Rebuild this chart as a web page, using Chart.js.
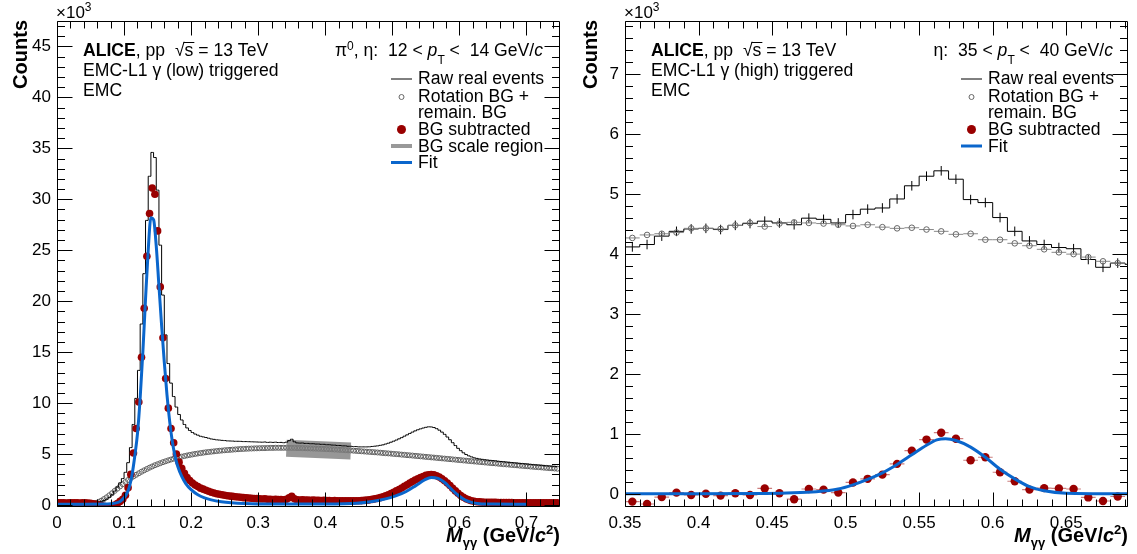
<!DOCTYPE html>
<html><head><meta charset="utf-8">
<script src="https://cdn.jsdelivr.net/npm/chart.js@4.4.0/dist/chart.umd.min.js"></script>
<style>
html,body{margin:0;padding:0;background:#fff;}
#wrap{position:relative;width:1137px;height:554px;overflow:hidden;}
#cL{position:absolute;left:0;top:0;}
#cR{position:absolute;left:570px;top:0;}
</style></head><body>
<div id="wrap"><canvas id="cL" width="570" height="554"></canvas><canvas id="cR" width="567" height="554"></canvas></div>
<script>
// ---------------- LEFT PANEL DATA (counts in units of 10^3) ----------------
const leftMass = [
0.002,0.006,0.010,0.014,0.018,0.022,0.026,0.030,0.034,0.038,
0.042,0.046,0.050,0.054,0.058,0.062,0.066,0.070,0.074,0.078,
0.082,0.086,0.090,0.094,0.098,0.102,0.106,0.110,0.114,0.118,
0.122,0.126,0.130,0.134,0.138,0.142,0.146,0.150,0.154,0.158,
0.162,0.166,0.170,0.174,0.178,0.182,0.186,0.190,0.194,0.198,
0.202,0.206,0.210,0.214,0.218,0.222,0.226,0.230,0.234,0.238,
0.242,0.246,0.250,0.254,0.258,0.262,0.266,0.270,0.274,0.278,
0.282,0.286,0.290,0.294,0.298,0.302,0.306,0.310,0.314,0.318,
0.322,0.326,0.330,0.334,0.338,0.342,0.346,0.350,0.354,0.358,
0.362,0.366,0.370,0.374,0.378,0.382,0.386,0.390,0.394,0.398,
0.402,0.406,0.410,0.414,0.418,0.422,0.426,0.430,0.434,0.438,
0.442,0.446,0.450,0.454,0.458,0.462,0.466,0.470,0.474,0.478,
0.482,0.486,0.490,0.494,0.498,0.502,0.506,0.510,0.514,0.518,
0.522,0.526,0.530,0.534,0.538,0.542,0.546,0.550,0.554,0.558,
0.562,0.566,0.570,0.574,0.578,0.582,0.586,0.590,0.594,0.598,
0.602,0.606,0.610,0.614,0.618,0.622,0.626,0.630,0.634,0.638,
0.642,0.646,0.650,0.654,0.658,0.662,0.666,0.670,0.674,0.678,
0.682,0.686,0.690,0.694,0.698,0.702,0.706,0.710,0.714,0.718,
0.722,0.726,0.730,0.734,0.738,0.742,0.746];
const leftRaw = [
0.2,0.22,0.2,0.18,0.2,0.22,0.2,0.2,0.18,0.21,
0.22,0.21,0.22,0.24,0.27,0.3,0.34,0.44,0.57,0.75,
1.0,1.36,1.75,2.17,2.59,3.2,4.15,5.63,7.9,10.46,
13.21,17.76,22.7,27.93,32.26,34.6,34.1,30.9,25.5,20.6,
16.69,13.88,11.96,10.64,9.61,8.88,8.34,7.9,7.56,7.31,
7.11,6.96,6.85,6.74,6.68,6.62,6.55,6.48,6.44,6.39,
6.37,6.34,6.32,6.29,6.28,6.27,6.25,6.25,6.24,6.22,
6.22,6.21,6.2,6.19,6.18,6.17,6.16,6.18,6.14,6.16,
6.14,6.16,6.13,6.14,6.11,6.16,6.31,6.45,6.2,6.09,
6.07,6.08,6.04,6.04,6.01,6.01,5.98,5.98,5.95,5.95,
5.91,5.91,5.88,5.87,5.84,5.83,5.8,5.8,5.76,5.76,
5.73,5.73,5.7,5.7,5.7,5.7,5.71,5.74,5.77,5.8,
5.85,5.9,5.98,6.06,6.16,6.26,6.37,6.49,6.61,6.75,
6.88,7.02,7.15,7.27,7.38,7.47,7.55,7.62,7.67,7.66,
7.6,7.49,7.34,7.15,6.93,6.67,6.4,6.11,5.83,5.56,
5.33,5.12,4.95,4.82,4.72,4.63,4.57,4.52,4.48,4.44,
4.41,4.38,4.35,4.33,4.29,4.27,4.24,4.21,4.19,4.16,
4.13,4.11,4.08,4.06,4.03,4.01,3.98,3.95,3.93,3.91,
3.89,3.86,3.84,3.82,3.8,3.78,3.76];
const leftRotBG = [
0,0,0,0,0,0,0,0,0,0.01,
0.02,0.03,0.05,0.12,0.2,0.3,0.42,0.58,0.75,0.95,
1.15,1.38,1.6,1.82,2.04,2.25,2.45,2.63,2.8,2.96,
3.11,3.26,3.4,3.53,3.66,3.78,3.9,4.0,4.1,4.2,
4.29,4.38,4.46,4.54,4.61,4.68,4.74,4.8,4.86,4.91,
4.96,5.01,5.05,5.09,5.13,5.17,5.2,5.23,5.26,5.29,
5.32,5.34,5.37,5.39,5.41,5.43,5.45,5.47,5.49,5.5,
5.52,5.53,5.54,5.55,5.56,5.57,5.58,5.58,5.59,5.6,
5.6,5.61,5.61,5.61,5.61,5.61,5.61,5.6,5.6,5.59,
5.59,5.58,5.57,5.56,5.55,5.54,5.53,5.52,5.51,5.5,
5.48,5.47,5.46,5.44,5.43,5.41,5.4,5.38,5.36,5.35,
5.33,5.31,5.29,5.27,5.25,5.23,5.21,5.19,5.17,5.15,
5.13,5.1,5.08,5.06,5.04,5.01,4.99,4.97,4.94,4.92,
4.89,4.87,4.85,4.82,4.8,4.77,4.75,4.72,4.7,4.67,
4.65,4.62,4.6,4.57,4.55,4.52,4.5,4.47,4.45,4.42,
4.4,4.37,4.35,4.32,4.3,4.27,4.25,4.22,4.2,4.17,
4.15,4.12,4.1,4.08,4.05,4.03,4.0,3.98,3.96,3.93,
3.91,3.89,3.86,3.84,3.82,3.8,3.77,3.75,3.73,3.71,
3.69,3.66,3.64,3.62,3.6,3.58,3.56];
const leftSub = [
0.2,0.22,0.2,0.18,0.2,0.22,0.2,0.2,0.18,0.2,
0.2,0.18,0.17,0.12,0.07,0.0,-0.08,-0.14,-0.18,-0.2,
-0.15,-0.02,0.15,0.35,0.55,0.95,1.7,3.0,5.1,7.5,
10.1,14.5,19.3,24.4,28.6,31.1,30.5,26.9,21.4,16.4,
12.4,9.5,7.5,6.1,5.0,4.2,3.6,3.1,2.7,2.4,
2.15,1.95,1.8,1.65,1.55,1.45,1.35,1.25,1.18,1.1,
1.05,1.0,0.95,0.9,0.87,0.84,0.8,0.78,0.75,0.72,
0.7,0.68,0.66,0.64,0.62,0.6,0.58,0.6,0.55,0.56,
0.54,0.55,0.52,0.53,0.5,0.55,0.7,0.85,0.6,0.5,
0.48,0.5,0.47,0.48,0.46,0.47,0.45,0.46,0.44,0.45,
0.43,0.44,0.42,0.43,0.41,0.42,0.4,0.42,0.4,0.41,
0.4,0.42,0.41,0.43,0.45,0.47,0.5,0.55,0.6,0.65,
0.72,0.8,0.9,1.0,1.12,1.25,1.38,1.52,1.67,1.83,
1.99,2.15,2.3,2.45,2.58,2.7,2.8,2.9,2.97,2.99,
2.95,2.87,2.74,2.58,2.38,2.15,1.9,1.64,1.38,1.14,
0.93,0.75,0.6,0.5,0.42,0.36,0.32,0.3,0.28,0.27,
0.26,0.26,0.25,0.25,0.24,0.24,0.24,0.23,0.23,0.23,
0.22,0.22,0.22,0.22,0.21,0.21,0.21,0.2,0.2,0.2,
0.2,0.2,0.2,0.2,0.2,0.2,0.2];
const leftFitMass = [0.000,0.040,0.070,0.080,0.088,0.094,0.100,0.104,0.108,0.112,0.116,0.120,0.124,0.128,0.132,0.136,0.140,0.144,0.148,0.152,0.156,0.160,0.164,0.168,0.172,0.176,0.180,0.186,0.192,0.200,0.210,0.220,0.230,0.245,0.260,0.280,0.320,0.380,0.440,0.470,0.490,0.505,0.520,0.535,0.548,0.558,0.568,0.578,0.588,0.598,0.608,0.618,0.630,0.650,0.700];
const leftFitCounts = [0.08,0.08,0.09,0.12,0.2,0.35,0.7,1.1,1.8,3.0,4.8,7.0,10.5,15.0,20.2,25.0,28.2,28.0,25.4,21.5,17.6,14.0,10.8,8.2,6.2,4.8,3.8,2.8,2.1,1.5,1.0,0.7,0.5,0.32,0.22,0.15,0.1,0.1,0.15,0.35,0.6,0.9,1.3,1.9,2.45,2.7,2.6,2.2,1.55,0.95,0.5,0.25,0.13,0.09,0.08];
const leftScaleMass = [0.342, 0.438];
const leftScaleCounts = [5.56, 5.30];
const leftXTicks = [0,0.1,0.2,0.3,0.4,0.5,0.6,0.7];
const leftXTickLabels = ['0','0.1','0.2','0.3','0.4','0.5','0.6','0.7'];
const leftYTicks = [0,5,10,15,20,25,30,35,40,45];
const leftYTickLabels = ['0','5','10','15','20','25','30','35','40','45'];

// ---------------- RIGHT PANEL DATA (counts in units of 10^3) ----------------
const rightRawMass = [0.345,0.355,0.365,0.375,0.385,0.395,0.405,0.415,0.425,0.435,0.445,0.455,0.465,0.475,0.485,0.495,0.505,0.515,0.525,0.535,0.545,0.555,0.565,0.575,0.585,0.595,0.605,0.615,0.625,0.635,0.645,0.655,0.665,0.675,0.685,0.695];
const rightRaw = [4.2,4.12,4.16,4.30,4.38,4.42,4.43,4.41,4.48,4.51,4.55,4.52,4.49,4.60,4.58,4.52,4.66,4.75,4.77,4.92,5.14,5.30,5.39,5.25,4.91,4.86,4.61,4.38,4.22,4.16,4.11,4.09,3.91,3.78,3.85,3.83];
const rightMass = [0.355,0.365,0.375,0.385,0.395,0.405,0.415,0.425,0.435,0.445,0.455,0.465,0.475,0.485,0.495,0.505,0.515,0.525,0.535,0.545,0.555,0.565,0.575,0.585,0.595,0.605,0.615,0.625,0.635,0.645,0.655,0.665,0.675,0.685];
const rightRotBG = [4.27,4.32,4.34,4.36,4.43,4.43,4.42,4.48,4.52,4.46,4.51,4.53,4.52,4.51,4.49,4.47,4.49,4.45,4.43,4.44,4.41,4.38,4.33,4.34,4.24,4.24,4.18,4.14,4.08,4.03,4.0,3.95,3.88,3.85];
const rightSub = [-0.13,-0.17,-0.055,0.02,-0.02,0.0,-0.03,0.01,-0.02,0.09,0.01,-0.09,0.08,0.07,0.02,0.19,0.25,0.32,0.50,0.72,0.905,1.02,0.92,0.56,0.61,0.36,0.21,0.07,0.095,0.09,0.08,-0.06,-0.12,-0.045];
const rightFitMass = [0.350,0.400,0.440,0.460,0.480,0.495,0.505,0.515,0.525,0.535,0.545,0.555,0.562,0.568,0.575,0.585,0.595,0.605,0.615,0.625,0.635,0.650,0.692];
const rightFitCounts = [0.0,0.0,0.005,0.015,0.035,0.08,0.15,0.24,0.35,0.49,0.65,0.81,0.9,0.92,0.89,0.78,0.61,0.41,0.25,0.12,0.05,0.01,0.0];
const rightXTicks = [0.35,0.4,0.45,0.5,0.55,0.6,0.65];
const rightXTickLabels = ['0.35','0.4','0.45','0.5','0.55','0.6','0.65'];
const rightYTicks = [0,1,2,3,4,5,6,7];
const rightYTickLabels = ['0','1','2','3','4','5','6','7'];

// ---------------- helpers ----------------
const FONT = '"Liberation Sans", Arial, Helvetica, sans-serif';
const fnt = (s, st) => (st ? st + ' ' : '') + s + 'px ' + FONT;
const pts = (xs, ys) => xs.map((x, i) => ({x: x, y: ys[i]}));
const RED = '#990000', BLUE = '#0a66cc', TS = 17.6;

function rich(ctx, x, y, parts, align) {
  let w = 0;
  for (const p of parts) { ctx.font = p[1]; w += ctx.measureText(p[0]).width; }
  let cx = align === 'right' ? x - w : x;
  for (const p of parts) { ctx.font = p[1]; ctx.fillText(p[0], cx, y + (p[2] || 0)); cx += ctx.measureText(p[0]).width; }
  return cx;
}

function frameTicks(o) {
  return {
    id: 'frameTicks',
    afterDatasetsDraw(chart) {
      const ctx = chart.ctx, a = chart.chartArea, sx = chart.scales.x, sy = chart.scales.y;
      ctx.save(); ctx.strokeStyle = '#000'; ctx.lineWidth = 1; ctx.beginPath();
      const L = Math.round(a.left) + 0.5, R = Math.round(a.right) - 0.5, T = Math.round(a.top) + 0.5, B = Math.round(a.bottom) - 0.5;
      for (let k = Math.ceil(sx.min / o.xMinor - 1e-6); k <= Math.floor(sx.max / o.xMinor + 1e-6); k++) {
        const v = k * o.xMinor, q = v / o.xMajor, maj = Math.abs(q - Math.round(q)) < 1e-6;
        const len = maj ? o.xLen : o.xLen * 0.5;
        const p = Math.round(sx.getPixelForValue(v)) + 0.5;
        ctx.moveTo(p, B); ctx.lineTo(p, B - len); ctx.moveTo(p, T); ctx.lineTo(p, T + len);
      }
      for (let k = Math.ceil(sy.min / o.yMinor - 1e-6); k <= Math.floor(sy.max / o.yMinor + 1e-6); k++) {
        const v = k * o.yMinor, q = v / o.yMajor, maj = Math.abs(q - Math.round(q)) < 1e-6;
        const len = maj ? o.yLen : o.yLen * 0.5;
        const p = Math.round(sy.getPixelForValue(v)) + 0.5;
        ctx.moveTo(L, p); ctx.lineTo(L + len, p); ctx.moveTo(R, p); ctx.lineTo(R - len, p);
      }
      ctx.rect(L, T, R - L, B - T);
      ctx.stroke(); ctx.restore();
    }
  };
}

function errBars(list) {
  return {
    id: 'errBars',
    beforeDatasetDraw(chart, args) {
      const spec = list.find(s => s.ds === args.index); if (!spec) return;
      const ctx = chart.ctx, a = chart.chartArea, sx = chart.scales.x, sy = chart.scales.y;
      const data = chart.data.datasets[args.index].data;
      ctx.save(); ctx.beginPath(); ctx.rect(a.left, a.top, a.right - a.left, a.bottom - a.top); ctx.clip();
      ctx.strokeStyle = spec.color; ctx.lineWidth = spec.width; ctx.beginPath();
      data.forEach(d => {
        const px = sx.getPixelForValue(d.x), py = sy.getPixelForValue(d.y);
        if (spec.xErr) { ctx.moveTo(sx.getPixelForValue(d.x - spec.xErr), py); ctx.lineTo(sx.getPixelForValue(d.x + spec.xErr), py); }
        if (spec.yErr) { ctx.moveTo(px, sy.getPixelForValue(d.y - spec.yErr)); ctx.lineTo(px, sy.getPixelForValue(d.y + spec.yErr)); }
      });
      ctx.stroke(); ctx.restore();
    }
  };
}

function commonTexts(ctx, area, trig) {
  ctx.fillStyle = '#000'; ctx.strokeStyle = '#000'; ctx.textAlign = 'left'; ctx.textBaseline = 'alphabetic';
  rich(ctx, area.left - 1, 18, [['×10', fnt(17)], ['3', fnt(12), -7]]);
  ctx.save(); ctx.translate(27, 20); ctx.rotate(-Math.PI / 2); ctx.textAlign = 'right';
  ctx.font = fnt(20, 'bold'); ctx.fillText('Counts', 0, 0); ctx.restore();
  rich(ctx, area.right, 542, [['M', fnt(20, 'italic bold')], ['γγ', fnt(13, 'bold'), 5], [' (GeV/', fnt(20, 'bold')], ['c', fnt(20, 'italic bold')], ['2', fnt(13, 'bold'), -8], [')', fnt(20, 'bold')]], 'right');
  const x0 = area.left + 26, y0 = 56;
  let cx = rich(ctx, x0, y0, [['ALICE', fnt(TS, 'bold')], [', pp  ', fnt(TS)]]);
  ctx.font = fnt(TS);
  const wr = ctx.measureText('√').width, ws = ctx.measureText('s').width;
  ctx.fillText('√', cx, y0); ctx.fillText('s', cx + wr, y0);
  ctx.lineWidth = 1; ctx.beginPath(); ctx.moveTo(cx + wr - 1, y0 - 13.5); ctx.lineTo(cx + wr + ws + 1, y0 - 13.5); ctx.stroke();
  ctx.fillText(' = 13 TeV', cx + wr + ws, y0);
  ctx.fillText('EMC-L1 γ (' + trig + ') triggered', x0, 76);
  ctx.fillText('EMC', x0, 96);
}

function legendEntry(ctx, kind, y, text, ys) {
  const lx0 = 391, lx1 = 412, tx = 418, cxm = 401.5;
  ctx.save();
  if (kind === 'line') { ctx.strokeStyle = '#000'; ctx.lineWidth = 1; ctx.beginPath(); ctx.moveTo(lx0, ys); ctx.lineTo(lx1, ys); ctx.stroke(); }
  if (kind === 'open') { ctx.strokeStyle = '#666'; ctx.lineWidth = 1; ctx.beginPath(); ctx.arc(cxm, ys, 2.5, 0, Math.PI * 2); ctx.stroke(); }
  if (kind === 'red') { ctx.fillStyle = RED; ctx.beginPath(); ctx.arc(cxm, ys, 4.5, 0, Math.PI * 2); ctx.fill(); }
  if (kind === 'grey') { ctx.strokeStyle = '#999'; ctx.lineWidth = 4; ctx.beginPath(); ctx.moveTo(lx0, ys); ctx.lineTo(lx1, ys); ctx.stroke(); }
  if (kind === 'blue') { ctx.strokeStyle = BLUE; ctx.lineWidth = 3; ctx.beginPath(); ctx.moveTo(lx0, ys); ctx.lineTo(lx1, ys); ctx.stroke(); }
  ctx.restore();
  ctx.fillStyle = '#000'; ctx.font = fnt(TS); ctx.textAlign = 'left'; ctx.fillText(text, tx, y);
}

function axisCfg(min, max, ticks, labels, isX, size) {
  return {
    type: 'linear', min: min, max: max, position: isX ? 'bottom' : 'left',
    grid: { display: false, drawTicks: false }, border: { display: false },
    ticks: { color: '#000', font: { family: FONT, size: 17 }, padding: 6, autoSkip: false, maxRotation: 0, minRotation: 0,
      callback: (v, i) => labels[i] },
    afterBuildTicks: s => { s.ticks = ticks.map(v => ({ value: v })); },
    afterFit: s => { if (isX) s.height = size; else s.width = size; }
  };
}

const baseOpts = (padRight) => ({
  responsive: false, animation: false, devicePixelRatio: 1,
  layout: { padding: { left: 0, right: padRight, top: 21, bottom: 0 } },
  plugins: { legend: { display: false }, tooltip: { enabled: false } },
  elements: { line: { tension: 0 } }
});

// ---------------- LEFT CHART ----------------
const optL = baseOpts(10);
optL.scales = { x: axisCfg(0, 0.75, leftXTicks, leftXTickLabels, true, 47), y: axisCfg(-0.2, 47.5, leftYTicks, leftYTickLabels, false, 57) };
new Chart(document.getElementById('cL'), {
  type: 'line',
  data: { datasets: [
    { label: 'Raw real events', data: pts(leftMass, leftRaw), stepped: 'middle', borderColor: '#000', borderWidth: 1, pointRadius: 0, fill: false, order: 2 },
    { label: 'Rotation BG + remain. BG', data: pts(leftMass, leftRotBG), showLine: false, pointStyle: 'circle', pointRadius: 2.5, pointBorderWidth: 1, pointBorderColor: '#606060', pointBackgroundColor: 'rgba(0,0,0,0)', order: 4 },
    { label: 'BG scale region', data: pts(leftScaleMass, leftScaleCounts), borderColor: 'rgba(125,125,125,0.8)', borderWidth: 17, borderCapStyle: 'butt', pointRadius: 0, fill: false, order: 3 },
    { label: 'BG subtracted', data: pts(leftMass, leftSub), showLine: false, pointStyle: 'circle', pointRadius: 3.8, pointBorderWidth: 0, pointBackgroundColor: RED, order: 1 },
    { label: 'Fit', data: pts(leftFitMass, leftFitCounts), borderColor: BLUE, borderWidth: 3, pointRadius: 0, cubicInterpolationMode: 'monotone', fill: false, order: 0 }
  ] },
  options: optL,
  plugins: [frameTicks({ xMinor: 0.02, xMajor: 0.1, xLen: 14, yMinor: 1, yMajor: 5, yLen: 15 }), {
    id: 'textsL',
    afterDraw(chart) {
      const ctx = chart.ctx; ctx.save();
      commonTexts(ctx, chart.chartArea, 'low');
      rich(ctx, 543, 56, [['π', fnt(TS)], ['0', fnt(12), -6], [', η:  12 < ', fnt(TS)], ['p', fnt(TS, 'italic')], ['T', fnt(12), 8], [' <  14 GeV/', fnt(TS)], ['c', fnt(TS, 'italic')]], 'right');
      legendEntry(ctx, 'line', 84, 'Raw real events', 79);
      legendEntry(ctx, 'open', 101.5, 'Rotation BG +', 97);
      legendEntry(ctx, 'none', 117.5, 'remain. BG', 0);
      legendEntry(ctx, 'red', 134.5, 'BG subtracted', 129.5);
      legendEntry(ctx, 'grey', 152, 'BG scale region', 146);
      legendEntry(ctx, 'blue', 168, 'Fit', 162.5);
      ctx.restore();
    }
  }]
});

// ---------------- RIGHT CHART ----------------
const optR = baseOpts(9);
optR.scales = { x: axisCfg(0.35, 0.692, rightXTicks, rightXTickLabels, true, 47), y: axisCfg(-0.22, 7.89, rightYTicks, rightYTickLabels, false, 55) };
new Chart(document.getElementById('cR'), {
  type: 'line',
  data: { datasets: [
    { label: 'Raw real events', data: pts(rightRawMass, rightRaw), stepped: 'middle', borderColor: '#000', borderWidth: 1, pointRadius: 0, fill: false, order: 3 },
    { label: 'Rotation BG + remain. BG', data: pts(rightMass, rightRotBG), showLine: false, pointStyle: 'circle', pointRadius: 2.8, pointBorderWidth: 1, pointBorderColor: '#666', pointBackgroundColor: 'rgba(255,255,255,0)', order: 2 },
    { label: 'BG subtracted', data: pts(rightMass, rightSub), showLine: false, pointStyle: 'circle', pointRadius: 4.2, pointBorderWidth: 0, pointBackgroundColor: RED, order: 1 },
    { label: 'Fit', data: pts(rightFitMass, rightFitCounts), borderColor: BLUE, borderWidth: 3, pointRadius: 0, cubicInterpolationMode: 'monotone', fill: false, order: 0 }
  ] },
  options: optR,
  plugins: [frameTicks({ xMinor: 0.01, xMajor: 0.05, xLen: 14, yMinor: 0.2, yMajor: 1, yLen: 15 }),
    errBars([{ ds: 0, yErr: 0.08, color: '#000', width: 1 }, { ds: 1, xErr: 0.005, color: '#888', width: 1 }, { ds: 2, xErr: 0.005, color: 'rgba(170,40,40,0.6)', width: 1.2 }]),
    {
      id: 'textsR',
      afterDraw(chart) {
        const ctx = chart.ctx; ctx.save();
        commonTexts(ctx, chart.chartArea, 'high');
        rich(ctx, 543, 56, [['η:  35 < ', fnt(TS)], ['p', fnt(TS, 'italic')], ['T', fnt(12), 8], [' <  40 GeV/', fnt(TS)], ['c', fnt(TS, 'italic')]], 'right');
        legendEntry(ctx, 'line', 84, 'Raw real events', 79);
        legendEntry(ctx, 'open', 101.5, 'Rotation BG +', 97);
        legendEntry(ctx, 'none', 117.5, 'remain. BG', 0);
        legendEntry(ctx, 'red', 134.5, 'BG subtracted', 129.5);
        legendEntry(ctx, 'blue', 152, 'Fit', 146);
        ctx.restore();
      }
    }]
});
</script>
</body></html>
